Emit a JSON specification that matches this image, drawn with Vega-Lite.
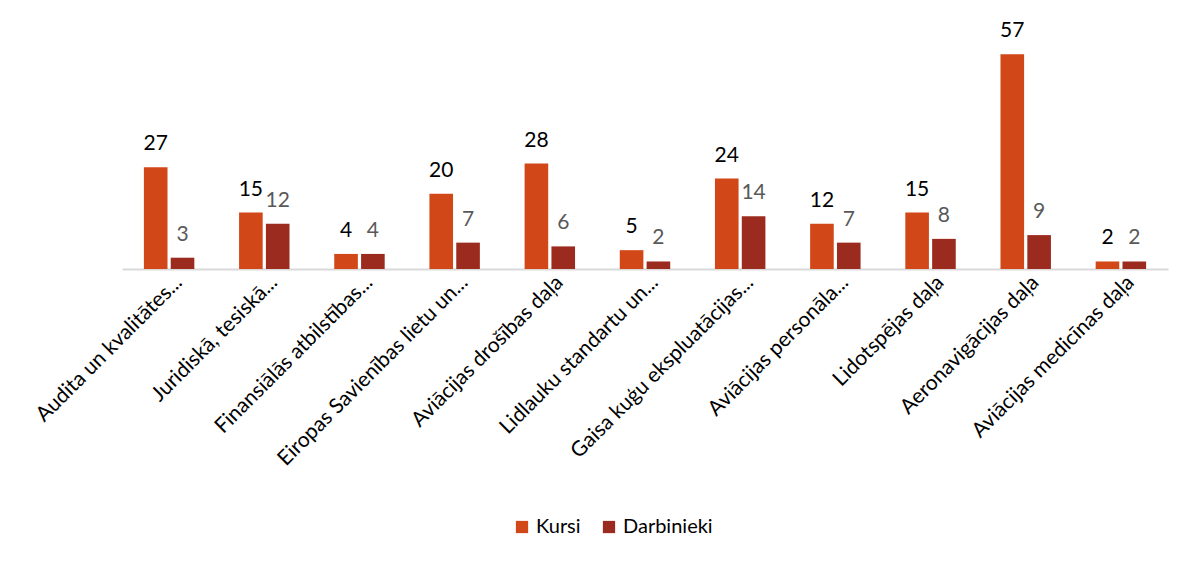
{
  "$schema": "https://vega.github.io/schema/vega-lite/v6.json",
  "width": 1046,
  "height": 226,
  "autosize": {"type": "none"},
  "padding": {"left": 122, "top": 43, "right": 34, "bottom": 292},
  "background": "white",
  "data": {
    "values": [
      {"nodala": "Audita un kvalitātes...", "series": "Kursi", "skaits": 27},
      {"nodala": "Audita un kvalitātes...", "series": "Darbinieki", "skaits": 3},
      {"nodala": "Juridiskā, tesiskā...", "series": "Kursi", "skaits": 15},
      {"nodala": "Juridiskā, tesiskā...", "series": "Darbinieki", "skaits": 12},
      {"nodala": "Finansiālās atbilstības...", "series": "Kursi", "skaits": 4},
      {"nodala": "Finansiālās atbilstības...", "series": "Darbinieki", "skaits": 4},
      {"nodala": "Eiropas Savienības lietu un...", "series": "Kursi", "skaits": 20},
      {"nodala": "Eiropas Savienības lietu un...", "series": "Darbinieki", "skaits": 7},
      {"nodala": "Aviācijas drošības daļa", "series": "Kursi", "skaits": 28},
      {"nodala": "Aviācijas drošības daļa", "series": "Darbinieki", "skaits": 6},
      {"nodala": "Lidlauku standartu un...", "series": "Kursi", "skaits": 5},
      {"nodala": "Lidlauku standartu un...", "series": "Darbinieki", "skaits": 2},
      {"nodala": "Gaisa kuģu ekspluatācijas...", "series": "Kursi", "skaits": 24},
      {"nodala": "Gaisa kuģu ekspluatācijas...", "series": "Darbinieki", "skaits": 14},
      {"nodala": "Aviācijas personāla...", "series": "Kursi", "skaits": 12},
      {"nodala": "Aviācijas personāla...", "series": "Darbinieki", "skaits": 7},
      {"nodala": "Lidotspējas daļa", "series": "Kursi", "skaits": 15},
      {"nodala": "Lidotspējas daļa", "series": "Darbinieki", "skaits": 8},
      {"nodala": "Aeronavigācijas daļa", "series": "Kursi", "skaits": 57},
      {"nodala": "Aeronavigācijas daļa", "series": "Darbinieki", "skaits": 9},
      {"nodala": "Aviācijas medicīnas daļa", "series": "Kursi", "skaits": 2},
      {"nodala": "Aviācijas medicīnas daļa", "series": "Darbinieki", "skaits": 2}
    ]
  },
  "encoding": {
    "x": {
      "field": "nodala",
      "type": "nominal",
      "sort": null,
      "scale": {"paddingInner": 0.47, "paddingOuter": 0.23},
      "axis": {
        "title": null,
        "labelAngle": -45,
        "labelAlign": "right",
        "labelBaseline": "middle",
        "labelFontSize": 21,
        "labelColor": "#000000",
        "labelPadding": 10,
        "labelOffset": 10,
        "labelLimit": 400,
        "ticks": false,
        "domainColor": "#d9d9d9",
        "domainWidth": 2
      }
    },
    "xOffset": {
      "field": "series",
      "type": "nominal",
      "sort": ["Kursi", "Darbinieki"],
      "scale": {"paddingInner": 0.12}
    },
    "y": {
      "field": "skaits",
      "type": "quantitative",
      "scale": {"domain": [0, 60]},
      "axis": null
    }
  },
  "layer": [
    {
      "mark": "bar",
      "encoding": {
        "color": {
          "field": "series",
          "type": "nominal",
          "scale": {"domain": ["Kursi", "Darbinieki"], "range": ["#d24717", "#9c2b1f"]},
          "legend": {
            "title": null,
            "orient": "none",
            "legendX": 390,
            "legendY": 474,
            "direction": "horizontal",
            "symbolType": "square",
            "symbolSize": 150,
            "labelFontSize": 20,
            "labelColor": "#000000",
            "columnPadding": 18
          }
        }
      }
    },
    {
      "mark": {"type": "text", "baseline": "alphabetic", "dy": -17, "fontSize": 21},
      "encoding": {
        "text": {"field": "skaits", "type": "quantitative"},
        "color": {
          "condition": {"test": "datum.series === 'Kursi'", "value": "#000000"},
          "value": "#595959"
        }
      }
    }
  ],
  "config": {
    "font": "Lato",
    "view": {"stroke": null}
  }
}
